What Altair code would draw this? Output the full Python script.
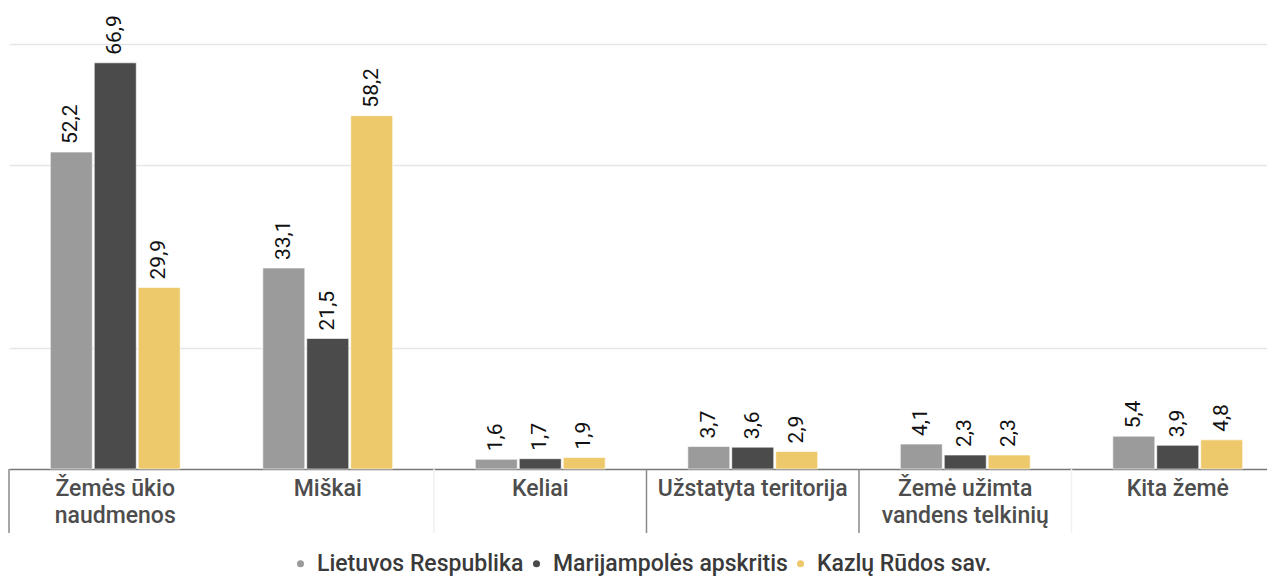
import altair as alt
import pandas as pd

categories = ["Žemės ūkio naudmenos", "Miškai", "Keliai", "Užstatyta teritorija",
              "Žemė užimta vandens telkinių", "Kita žemė"]
series = ["Lietuvos Respublika", "Marijampolės apskritis", "Kazlų Rūdos sav."]
lietuva = [52.2, 33.1, 1.6, 3.7, 4.1, 5.4]
marijampole = [66.9, 21.5, 1.7, 3.6, 2.3, 3.9]
kazlu_ruda = [29.9, 58.2, 1.9, 2.9, 2.3, 4.8]
colors = ["#9b9b9b", "#4b4b4b", "#eec96b"]
label_lines = {
    "Žemės ūkio naudmenos": ["Žemės ūkio", "naudmenos"],
    "Žemė užimta vandens telkinių": ["Žemė užimta", "vandens telkinių"],
}
sep_dark = ["Žemės ūkio naudmenos", "Užstatyta teritorija", "Žemė užimta vandens telkinių"]
sep_faint = ["Keliai", "Kita žemė"]

rows = []
for s, vals in zip(series, [lietuva, marijampole, kazlu_ruda]):
    for c, v in zip(categories, vals):
        rows.append({"cat": c, "series": s, "value": v,
                     "label": f"{v:.1f}".replace(".", ",")})
df = pd.DataFrame(rows)

seps = pd.DataFrame({"cat": sep_dark + sep_faint,
                     "kind": ["dark"] * len(sep_dark) + ["faint"] * len(sep_faint)})

W, H = 1259, 425

expr_parts = []
for k, v in label_lines.items():
    expr_parts.append(f"datum.label == '{k}' ? {v!r} : ")
label_expr = "".join(expr_parts) + "datum.label"

xscale = alt.Scale(domain=categories, range=[1, 1276], paddingInner=0, paddingOuter=0)
xaxis = alt.Axis(labelExpr=label_expr, labelAngle=0, labelFont="Roboto",
                 labelFontSize=23, labelFontWeight=500, labelColor="#4d4d4d",
                 labelLineHeight=27, labelPadding=8, ticks=False,
                 domainColor="#777777", domainWidth=1.5, labelBaseline="top",
                 labelLimit=300, grid=False)
xoff = alt.XOffset("series:N", sort=series,
                   scale=alt.Scale(domain=series, paddingInner=0.045, paddingOuter=0.94))
yscale = alt.Scale(domain=[0, 70], nice=False)
yaxis = alt.Axis(values=[20, 50, 70], labels=False, ticks=False, domain=False,
                 grid=True, gridColor="#e6e6e6", gridWidth=1.5)

base = alt.Chart(df)

bars = base.mark_bar(stroke="white", strokeWidth=0.6).encode(
    x=alt.X("cat:N", sort=categories, scale=xscale, title=None, axis=xaxis),
    xOffset=xoff,
    y=alt.Y("value:Q", scale=yscale, title=None, axis=yaxis),
    color=alt.Color("series:N", sort=series,
                    scale=alt.Scale(domain=series, range=colors),
                    legend=alt.Legend(title=None, orient="none", direction="horizontal",
                                      legendX=281, legendY=508, symbolType="circle",
                                      symbolSize=50, symbolStrokeWidth=0,
                                      labelFont="Roboto", labelFontSize=23,
                                      labelFontWeight=500,
                                      labelColor="#3a3a3a", columnPadding=1,
                                      labelOffset=5, symbolOpacity=1, labelLimit=400)),
)

text = base.mark_text(angle=270, align="left", baseline="middle", dx=8,
                      font="Roboto", fontSize=21, color="#111111").encode(
    x=alt.X("cat:N", sort=categories, scale=xscale, title=None, axis=xaxis),
    xOffset=xoff,
    y=alt.Y("value:Q", scale=yscale, title=None, axis=yaxis),
    text="label:N",
)

rules = alt.Chart(seps).mark_rule(strokeWidth=1.5).encode(
    x=alt.X("cat:N", sort=categories, scale=xscale, bandPosition=0, title=None, axis=xaxis),
    y=alt.value(H),
    y2=alt.value(H + 64),
    color=alt.Color("kind:N", scale=alt.Scale(domain=["dark", "faint"],
                                              range=["#8a8a8a", "#f1f1f1"]),
                    legend=None),
)

chart = alt.layer(bars, text, rules).resolve_scale(color="independent").properties(
    width=W, height=H,
    autosize=alt.AutoSizeParams(type="none"),
    padding={"left": 0, "top": 36, "right": 0, "bottom": 109},
).configure_view(stroke=None)

chart.save("out.html", embed_options={"renderer": "svg", "actions": False})
